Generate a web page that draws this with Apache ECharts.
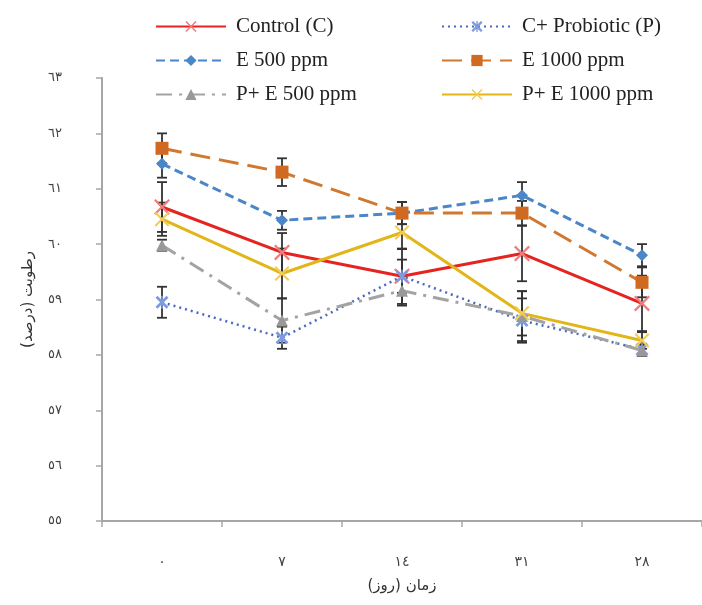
<!DOCTYPE html>
<html>
<head>
<meta charset="utf-8">
<script src="https://cdn.jsdelivr.net/npm/echarts@6/dist/echarts.min.js"></script>
<style>
  html, body { margin: 0; padding: 0; background: #fff; }
  #chart { width: 702px; height: 605px; }
</style>
</head>
<body>
<div id="chart"></div>
<script>
// categories (days) as printed on the chart
const days = ['٠', '٧', '١٤', '٣١', '٢٨'];

// moisture (%) per treatment
const control = [60.67, 59.85, 59.42, 59.83, 58.93];
const probiotic = [58.95, 58.31, 59.42, 58.62, 58.10];
const e500 = [61.45, 60.43, 60.56, 60.88, 59.80];
const e1000 = [61.73, 61.30, 60.56, 60.56, 59.31];
const pe500 = [59.98, 58.62, 59.16, 58.70, 58.08];
const pe1000 = [60.45, 59.47, 60.21, 58.75, 58.26];

// error bar half-lengths
const controlErr = [0.45, 0.35, 0.30, 0.50, 0.50];
const probioticErr = [0.28, 0.20, 0.50, 0.40, 0.10];
const e500Err = [0.25, 0.17, 0.20, 0.24, 0.20];
const e1000Err = [0.27, 0.25, 0.20, 0.22, 0.27];
const pe500Err = [0.10, 0.40, 0.27, 0.45, 0.10];
const pe1000Err = [0.30, 0.45, 0.30, 0.40, 0.15];

const seriesNames = ['Control (C)', 'C+ Probiotic (P)', 'E 500 ppm', 'E 1000 ppm', 'P+ E 500 ppm', 'P+ E 1000 ppm'];

// arabic-indic digits for axis labels
const digits = '٠١٢٣٤٥٦٧٨٩';
const toArabic = n => String(n).replace(/\d/g, d => digits[d]);

const xMark = 'path://M0,1L1,0L5,4L9,0L10,1L6,5L10,9L9,10L5,6L1,10L0,9L4,5Z';
const starMark = 'path://M0,1.5L1.5,0L5,3.5L8.5,0L10,1.5L6.5,5L10,8.5L8.5,10L5,6.5L1.5,10L0,8.5L3.5,5Z M4.4,0H5.6V10H4.4Z';

const chart = echarts.init(document.getElementById('chart'));

// error bar data: [category index, low, high]
const errData = [];
[[control, controlErr], [probiotic, probioticErr], [e500, e500Err],
 [e1000, e1000Err], [pe500, pe500Err], [pe1000, pe1000Err]].forEach(([vals, errs]) => {
  vals.forEach((v, i) => errData.push([i, v - errs[i], v + errs[i]]));
});

const lineSeries = (name, data, color, type, width, symbol, symbolSize, symbolColor) => ({
  name: name,
  type: 'line',
  data: data,
  z: 3,
  symbol: symbol,
  symbolSize: symbolSize,
  showAllSymbol: true,
  lineStyle: { color: color, width: width, type: type },
  itemStyle: { color: symbolColor || color, borderWidth: 0 },
  emphasis: { disabled: true }
});

const legendText = { fontFamily: 'Liberation Serif', fontSize: 21, color: '#222', padding: [0, 0, 0, 5] };

const options = {
  animation: false,
  legend: [
    {
      orient: 'vertical',
      left: 150,
      top: 11,
      itemWidth: 70,
      itemHeight: 14,
      itemGap: 13,
      textStyle: legendText,
      data: [seriesNames[0], seriesNames[2], seriesNames[4]]
    },
    {
      orient: 'vertical',
      left: 436,
      top: 11,
      itemWidth: 70,
      itemHeight: 14,
      itemGap: 13,
      textStyle: legendText,
      data: [seriesNames[1], seriesNames[3], seriesNames[5]]
    }
  ],
  grid: {
    left: 102,
    right: 0,
    top: 78,
    bottom: 84
  },
  xAxis: {
    type: 'category',
    data: days,
    boundaryGap: true,
    name: 'زمان (روز)',
    nameLocation: 'middle',
    nameGap: 58,
    nameTextStyle: { fontFamily: 'DejaVu Sans', fontSize: 15, color: '#333' },
    axisLine: { lineStyle: { color: '#a6a6a6', width: 2 } },
    axisTick: { show: true, length: 6, lineStyle: { color: '#a6a6a6', width: 1.5 } },
    axisLabel: { fontFamily: 'DejaVu Sans', fontSize: 14, color: '#444', margin: 34 }
  },
  yAxis: {
    type: 'value',
    min: 55,
    max: 63,
    interval: 1,
    name: 'رطوبت (درصد)',
    nameLocation: 'middle',
    nameGap: 66,
    nameRotate: 90,
    nameTextStyle: { fontFamily: 'DejaVu Sans', fontSize: 15, color: '#333' },
    axisLine: { show: true, lineStyle: { color: '#a6a6a6', width: 2 } },
    axisTick: { show: true, length: 6, lineStyle: { color: '#a6a6a6', width: 1.5 } },
    splitLine: { show: false },
    axisLabel: { fontFamily: 'DejaVu Sans', fontSize: 13, color: '#444', margin: 40, formatter: v => toArabic(v) }
  },
  series: [
    {
      type: 'custom',
      name: 'errorbars',
      z: 1,
      silent: true,
      data: errData,
      renderItem: (params, api) => {
        const lo = api.coord([api.value(0), api.value(1)]);
        const hi = api.coord([api.value(0), api.value(2)]);
        const half = 5;
        const style = { stroke: '#333', lineWidth: 1.8 };
        return {
          type: 'group',
          children: [
            { type: 'line', shape: { x1: lo[0], y1: lo[1], x2: hi[0], y2: hi[1] }, style: style },
            { type: 'line', shape: { x1: lo[0] - half, y1: lo[1], x2: lo[0] + half, y2: lo[1] }, style: style },
            { type: 'line', shape: { x1: hi[0] - half, y1: hi[1], x2: hi[0] + half, y2: hi[1] }, style: style }
          ]
        };
      }
    },
    lineSeries(seriesNames[0], control, '#e52421', 'solid', 3, xMark, 16, '#f07c7c'),
    lineSeries(seriesNames[1], probiotic, '#4a68c0', [2, 4], 2.5, starMark, 13, '#7f9be0'),
    lineSeries(seriesNames[2], e500, '#4a86c8', [9, 5], 3, 'diamond', 12, '#4a86c8'),
    lineSeries(seriesNames[3], e1000, '#d0782f', [20, 9], 3, 'rect', 13, '#d06a22'),
    lineSeries(seriesNames[4], pe500, '#a3a3a3', [16, 7, 3, 7], 3, 'triangle', 12, '#999999'),
    lineSeries(seriesNames[5], pe1000, '#e2b518', 'solid', 3, xMark, 15, '#f2cc55')
  ]
};

chart.setOption(options);
</script>
</body>
</html>
